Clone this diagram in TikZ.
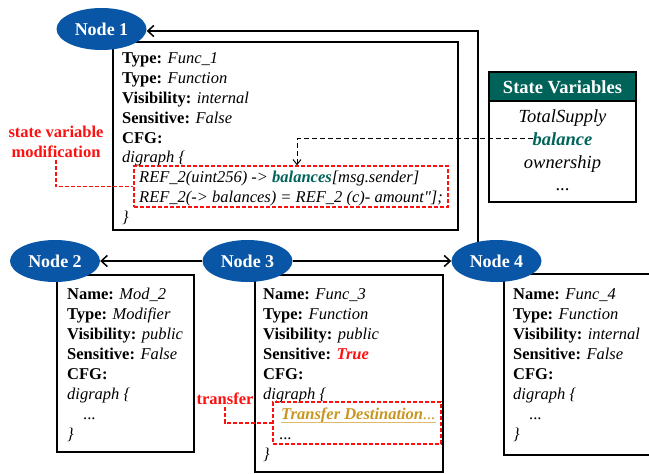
\documentclass[tikz,border=0pt]{standalone}
\usepackage{fontspec}
\setmainfont{Liberation Serif}
\newfontfamily\plainserif{Liberation Serif}
\usetikzlibrary{arrows.meta,shapes.geometric,backgrounds}
\definecolor{nodeblue}{HTML}{0A56A6}
\definecolor{svteal}{HTML}{00635A}
\definecolor{goldtxt}{HTML}{C8961E}
\definecolor{goldline}{HTML}{DDBB6A}
\definecolor{redmark}{HTML}{FF1010}
\begin{document}
\begin{tikzpicture}[x=1pt,y=-1pt,
  tx/.style={anchor=base west, inner sep=0pt, font=\fontsize{16.5}{20}\selectfont},
  svtx/.style={anchor=base, inner sep=0pt, font=\fontsize{18.5}{22}\selectfont\itshape},
  nodeell/.style={ellipse, fill=nodeblue, text=white, inner sep=0pt,
    minimum width=90pt, minimum height=42pt, font=\fontsize{18}{20}\selectfont\bfseries},
  infobox/.style={draw=black, line width=1.5pt, rectangle, inner sep=0pt},
  redbox/.style={draw=redmark, line width=1.4pt, dash pattern=on 4pt off 2pt, rectangle, inner sep=0pt},
  redlabel/.style={text=redmark, font=\fontsize{16.5}{20}\selectfont\bfseries, align=center},
  redlink/.style={draw=redmark, line width=1.4pt, dash pattern=on 4pt off 2pt},
  flow/.style={draw=black, line width=1.5pt, -{Straight Barb[length=6pt,width=11pt,line width=1.5pt]}},
  refarrow/.style={draw=black, line width=1pt, dash pattern=on 5pt off 3pt,
    -{Straight Barb[length=5pt,width=8pt,line width=1pt]}}
]
\useasboundingbox (0,0) rectangle (649,474);

% ---------- boxes ----------
\node[infobox, minimum width=345pt, minimum height=188pt] (box1) at (285.5,136) {};
\node[infobox, minimum width=137pt, minimum height=177pt] (box2) at (125.5,363.5) {};
\node[infobox, minimum width=188pt, minimum height=197pt] (box3) at (349,373.5) {};
\node[infobox, minimum width=156pt, minimum height=181pt] (box4) at (582,364.5) {};

% ---------- state variables ----------
\node[infobox, minimum width=147pt, minimum height=130pt] (svbox) at (562.5,137) {};
\node[fill=svteal, draw=black, line width=1.5pt, minimum width=147pt, minimum height=29pt, inner sep=0pt] (svhead) at (562.5,86.5) {};
\node[anchor=base, inner sep=0pt, text=white, font=\fontsize{18.5}{22}\selectfont\bfseries] (svtitle) at (562.5,93) {State Variables};
\node[svtx] (sv1) at (562.5,122) {TotalSupply};
\node[svtx, text=svteal, font=\fontsize{18.5}{22}\selectfont\bfseries\itshape] (sv2) at (562.5,145) {balance};
\node[svtx] (sv3) at (562.5,168) {ownership};
\node[svtx, font=\fontsize{18.5}{22}\selectfont] (sv4) at (562.5,190) {...};

% ---------- box 1 text ----------
\node[tx] (a1) at (122,63) {\textbf{Type:} \textit{Func\_1}};
\node[tx] (a2) at (122,83) {\textbf{Type:} \textit{Function}};
\node[tx] (a3) at (122,103) {\textbf{Visibility:} \textit{internal}};
\node[tx] (a4) at (122,123) {\textbf{Sensitive:} \textit{False}};
\node[tx] (a5) at (122,143) {\textbf{CFG:}};
\node[tx] (a6) at (122,162) {\textit{digraph \{}};
\node[tx] (a7) at (139,182) {\textit{REF\_2(uint256) -> \textcolor{svteal}{\textbf{balances}}[msg.sender]}};
\node[tx] (a8) at (139,202) {\textit{REF\_2(-> balances) = REF\_2 (c)- {\plainserif amount"];}}};
\node[tx] (a9) at (122,222) {\textit{\}}};
\node[redbox, minimum width=314pt, minimum height=41pt] (red1) at (291,186.5) {};

% ---------- box 2 text ----------
\node[tx] (b1) at (67,299) {\textbf{Name:} \textit{Mod\_2}};
\node[tx] (b2) at (67,319) {\textbf{Type:} \textit{Modifier}};
\node[tx] (b3) at (67,339) {\textbf{Visibility:} \textit{public}};
\node[tx] (b4) at (67,359) {\textbf{Sensitive:} \textit{False}};
\node[tx] (b5) at (67,379) {\textbf{CFG:}};
\node[tx] (b6) at (67,399) {\textit{digraph \{}};
\node[tx] (b7) at (83,419) {...};
\node[tx] (b8) at (67,439) {\textit{\}}};

% ---------- box 3 text ----------
\node[tx] (c1) at (263,299) {\textbf{Name:} \textit{Func\_3}};
\node[tx] (c2) at (263,319) {\textbf{Type:} \textit{Function}};
\node[tx] (c3) at (263,339) {\textbf{Visibility:} \textit{public}};
\node[tx] (c4) at (263,359) {\textbf{Sensitive:} \textcolor{redmark}{\textbf{\textit{True}}}};
\node[tx] (c5) at (263,379) {\textbf{CFG:}};
\node[tx] (c6) at (263,399) {\textit{digraph \{}};
\node[tx, text=goldtxt] (c7) at (281,419) {\textbf{\textit{Transfer Destination}}\textit{...}};
\node[tx] (c8) at (279,439) {...};
\node[tx] (c9) at (263,459) {\textit{\}}};
\draw[goldline, line width=1.4pt] ([yshift=-3.5pt]c7.base west) -- ([yshift=-3.5pt]c7.base east);
\node[redbox, minimum width=168pt, minimum height=42pt] (red3) at (357,423) {};

% ---------- box 4 text ----------
\node[tx] (d1) at (513,299) {\textbf{Name:} \textit{Func\_4}};
\node[tx] (d2) at (513,319) {\textbf{Type:} \textit{Function}};
\node[tx] (d3) at (513,339) {\textbf{Visibility:} \textit{internal}};
\node[tx] (d4) at (513,359) {\textbf{Sensitive:} \textit{False}};
\node[tx] (d5) at (513,379) {\textbf{CFG:}};
\node[tx] (d6) at (513,399) {\textit{digraph \{}};
\node[tx] (d7) at (529,419) {...};
\node[tx] (d8) at (513,439) {\textit{\}}};

% ---------- red labels ----------
\node[redlabel, inner sep=2pt] (svmod) at (56,141.5) {state variable\\modification};
\node[redlabel, inner sep=2pt] (trlab) at (225,399) {transfer};
\draw[redlink] (svmod.south) |- (red1.west);
\draw[redlink] (trlab.south) |- (red3.west);

% ---------- dashed reference ----------
\draw[refarrow] (sv2.west) -| ([xshift=6pt]red1.north);

% ---------- node ellipses ----------
\node[nodeell] (n1) at (101.5,29) {Node 1};
\node[nodeell] (n2) at (55,261) {Node 2};
\node[nodeell] (n3) at (247.5,261) {Node 3};
\node[nodeell] (n4) at (496.5,261) {Node 4};

% ---------- flow arrows ----------
\draw[flow] (n3.west) -- (n2.east);
\draw[flow] (n3.east) -- (n4.west);
\begin{scope}[on background layer]
\draw[flow] ([xshift=-18.5pt]n4.center) |- ([yshift=-2pt]n1.east);
\end{scope}
\end{tikzpicture}
\end{document}
